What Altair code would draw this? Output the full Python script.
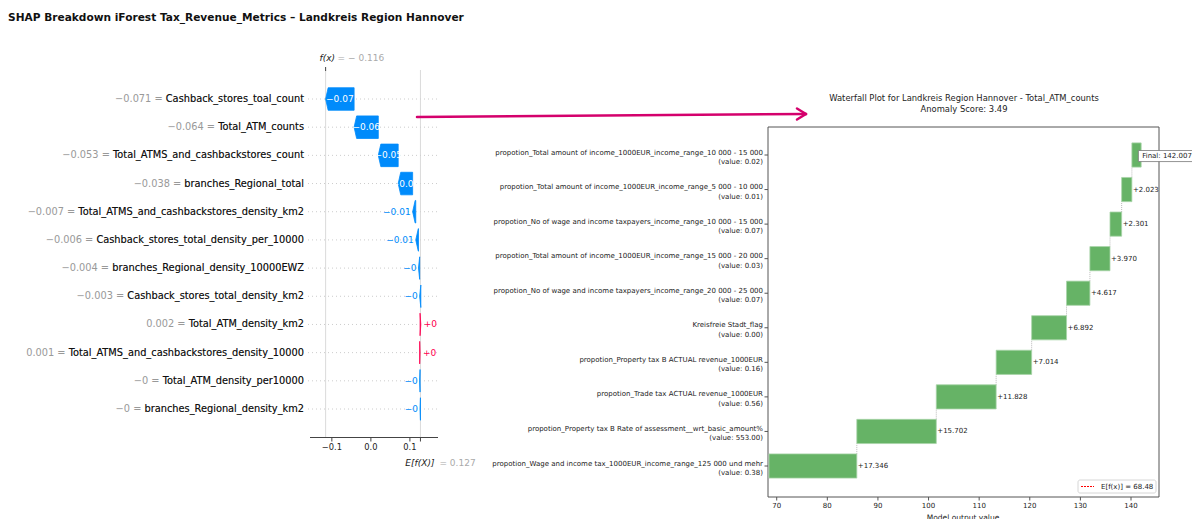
import altair as alt
import pandas as pd

FONT = "DejaVu Sans"
BLUE = "#008bfb"
PINK = "#ff0051"
GREEN = "#66b366"
ARROW = "#d4006c"

# ---------------- SHAP breakdown (rows listed top to bottom) ----------------
shap_title = "SHAP Breakdown iForest Tax_Revenue_Metrics – Landkreis Region Hannover"
shap_features = [
    "Cashback_stores_toal_count",
    "Total_ATM_counts",
    "Total_ATMS_and_cashbackstores_count",
    "branches_Regional_total",
    "Total_ATMS_and_cashbackstores_density_km2",
    "Cashback_stores_total_density_per_10000",
    "branches_Regional_density_10000EWZ",
    "Cashback_stores_total_density_km2",
    "Total_ATM_density_km2",
    "Total_ATMS_and_cashbackstores_density_10000",
    "Total_ATM_density_per10000",
    "branches_Regional_density_km2",
]
shap_feature_values = [-0.071, -0.064, -0.053, -0.038, -0.007, -0.006,
                       -0.004, -0.003, 0.002, 0.001, -0.0, -0.0]
shap_values = [-0.073, -0.062, -0.051, -0.037, -0.008, -0.007,
               -0.003, -0.003, 0.002, 0.001, -0.001, -0.001]
shap_base = 0.127
shap_ticks = [-0.1, 0.0, 0.1]
shap_tick_labels = ["−0.1", "0.0", "0.1"]

# ---------------- Waterfall (rows listed top to bottom) ----------------
wf_title = "Waterfall Plot for Landkreis Region Hannover - Total_ATM_counts"
anomaly_score = 3.49
wf_features = [
    "propotion_Total amount of income_1000EUR_income_range_10 000 - 15 000",
    "propotion_Total amount of income_1000EUR_income_range_5 000 - 10 000",
    "propotion_No of wage and income taxpayers_income_range_10 000 - 15 000",
    "propotion_Total amount of income_1000EUR_income_range_15 000 - 20 000",
    "propotion_No of wage and income taxpayers_income_range_20 000 - 25 000",
    "Kreisfreie Stadt_flag",
    "propotion_Property tax B ACTUAL revenue_1000EUR",
    "propotion_Trade tax ACTUAL revenue_1000EUR",
    "propotion_Property tax B Rate of assessment__wrt_basic_amount%",
    "propotion_Wage and income tax_1000EUR_income_range_125 000 und mehr",
]
wf_feature_values = ["0.02", "0.01", "0.07", "0.03", "0.07", "0.00",
                     "0.16", "0.56", "553.00", "0.38"]
wf_contrib = [1.834, 2.023, 2.301, 3.970, 4.617, 6.892,
              7.014, 11.828, 15.702, 17.346]
wf_base = 68.48
wf_ticks = [70, 80, 90, 100, 110, 120, 130, 140]


def strip_num(v, d):
    s = f"{v:.{d}f}".rstrip("0").rstrip(".")
    return s.replace("-", "−")


def signed(v):
    s = strip_num(v, 2)
    return s if s.startswith("−") else "+" + s


# ---- scales: each panel gets its own pixel placement on one canvas ----
X_SHAP = alt.Scale(domain=[-0.156, 0.172], range=[310, 438], nice=False, zero=False)
Y_SHAP = alt.Scale(domain=[0, 11], range=[99, 409], nice=False, zero=False)
X_WF = alt.Scale(domain=[68.28, 145.53], range=[768, 1159], nice=False, zero=False)
Y_WF = alt.Scale(domain=[0, 9], range=[155, 466], nice=False, zero=False)

# font sizes
FS_FEAT = 9.8
FS_BAR = 9
FS_TICK = 8.3
FS_MATH = 9
FS_TITLE = 10.6
FS_WF = 7
FS_WF_TITLE = 8.4


def xs(f):
    return alt.X(f, type="quantitative", scale=X_SHAP, axis=None)


def ys(f):
    return alt.Y(f, type="quantitative", scale=Y_SHAP, axis=None, stack=None)


def xw(f):
    return alt.X(f, type="quantitative", scale=X_WF, axis=None)


def yw(f):
    return alt.Y(f, type="quantitative", scale=Y_WF, axis=None, stack=None)


layers = []

# ================= SHAP panel =================
n = len(shap_values)
s_start, s_end = [0.0] * n, [0.0] * n
cum = shap_base
for i in reversed(range(n)):
    s_start[i] = cum
    cum += shap_values[i]
    s_end[i] = cum
shap_fx = cum

rows_df = pd.DataFrame({"row": list(range(n))})

# dotted row guides
layers.append(
    alt.Chart(rows_df).mark_rule(color="#cccccc", strokeDash=[1, 3], strokeWidth=1)
    .encode(x=alt.value(308), x2=alt.value(438), y=ys("row"))
)

# vertical reference lines at f(x) and E[f(X)]
ref_df = pd.DataFrame({"v": [shap_fx, shap_base]})
layers.append(
    alt.Chart(ref_df).mark_rule(color="#d0d0d0", strokeWidth=0.8)
    .encode(x=xs("v"), y=alt.value(70), y2=alt.value(437))
)

# arrow-shaped bars
H = 0.4
HEAD = 0.0065
poly = []
for i, (s, e, v) in enumerate(zip(s_start, s_end, shap_values)):
    col = BLUE if v < 0 else PINK
    hl = min(HEAD, abs(v))
    neck = e + hl if v < 0 else e - hl
    for x, a, b in [(e, i, i), (neck, i - H, i + H), (s, i - H, i + H)]:
        poly.append({"row": i, "x": x, "y0": a, "y1": b, "col": col})
poly_df = pd.DataFrame(poly)
layers.append(
    alt.Chart(poly_df).mark_area(orient="vertical", strokeWidth=0.8, interpolate="linear")
    .encode(
        x=xs("x"), y=ys("y0"), y2="y1",
        color=alt.Color("col:N", scale=None),
        stroke=alt.Stroke("col:N", scale=None),
        detail="row:N",
    )
)

# bar value labels
INSIDE_MIN = 0.03
lab = pd.DataFrame({
    "row": list(range(n)),
    "s": s_start, "e": s_end, "v": shap_values,
    "mid": [(a + b) / 2 for a, b in zip(s_start, s_end)],
    "t": [signed(v) for v in shap_values],
})
inside = lab[lab.v.abs() >= INSIDE_MIN]
out_neg = lab[(lab.v.abs() < INSIDE_MIN) & (lab.v < 0)]
out_pos = lab[(lab.v.abs() < INSIDE_MIN) & (lab.v > 0)]
layers.append(
    alt.Chart(inside).mark_text(font=FONT, fontSize=FS_BAR, color="white", align="center", baseline="middle")
    .encode(x=xs("mid"), y=ys("row"), text="t:N")
)
layers.append(
    alt.Chart(out_neg).mark_text(font=FONT, fontSize=FS_BAR, color=BLUE, align="right", baseline="middle", dx=-2)
    .encode(x=xs("e"), y=ys("row"), text="t:N")
)
layers.append(
    alt.Chart(out_pos).mark_text(font=FONT, fontSize=FS_BAR, color=PINK, align="left", baseline="middle", dx=3)
    .encode(x=xs("e"), y=ys("row"), text="t:N")
)

# feature labels: grey "value = " followed by black feature name
feat_df = pd.DataFrame({
    "row": list(range(n)),
    "full": [f"{strip_num(v, 3)} = {f}" for v, f in zip(shap_feature_values, shap_features)],
    "name": shap_features,
})
layers.append(
    alt.Chart(feat_df).mark_text(font=FONT, fontSize=FS_FEAT, color="#999999", align="right", baseline="middle")
    .encode(x=alt.value(304), y=ys("row"), text="full:N")
)
layers.append(
    alt.Chart(feat_df).mark_text(font=FONT, fontSize=FS_FEAT, color="#111111", align="right", baseline="middle")
    .encode(x=alt.value(304), y=ys("row"), text="name:N")
)

# bottom axis
one = pd.DataFrame({"k": [0]})
layers.append(
    alt.Chart(one).mark_rule(color="#444444", strokeWidth=1)
    .encode(x=alt.value(310), x2=alt.value(438), y=alt.value(437.5))
)
tick_df = pd.DataFrame({"v": shap_ticks + [shap_base]})
layers.append(
    alt.Chart(tick_df).mark_rule(color="#444444", strokeWidth=1)
    .encode(x=xs("v"), y=alt.value(437.5), y2=alt.value(441.5))
)
tl_df = pd.DataFrame({"v": shap_ticks, "t": shap_tick_labels})
layers.append(
    alt.Chart(tl_df).mark_text(font=FONT, fontSize=FS_TICK, color="#222222", align="center", baseline="middle")
    .encode(x=xs("v"), y=alt.value(448), text="t:N")
)
# top tick at f(x)
fx_df = pd.DataFrame({"v": [shap_fx], "a": ["f(x)"], "b": [f"= − {abs(shap_fx):.3f}"]})
layers.append(
    alt.Chart(fx_df).mark_rule(color="#444444", strokeWidth=1)
    .encode(x=xs("v"), y=alt.value(67), y2=alt.value(71))
)
layers.append(
    alt.Chart(fx_df).mark_text(font=FONT, fontSize=FS_MATH, fontStyle="italic", color="#222222", align="left", baseline="middle", dx=-6)
    .encode(x=xs("v"), y=alt.value(58), text="a:N")
)
layers.append(
    alt.Chart(fx_df).mark_text(font=FONT, fontSize=FS_MATH, color="#aaaaaa", align="left", baseline="middle", dx=12)
    .encode(x=xs("v"), y=alt.value(58), text="b:N")
)
ef_df = pd.DataFrame({"v": [shap_base], "a": ["E[f(X)]"], "b": [f"= {shap_base:.3f}"]})
layers.append(
    alt.Chart(ef_df).mark_text(font=FONT, fontSize=FS_MATH, fontStyle="italic", color="#222222", align="right", baseline="middle", dx=14)
    .encode(x=xs("v"), y=alt.value(463), text="a:N")
)
layers.append(
    alt.Chart(ef_df).mark_text(font=FONT, fontSize=FS_MATH, color="#aaaaaa", align="left", baseline="middle", dx=19)
    .encode(x=xs("v"), y=alt.value(463), text="b:N")
)
# panel title
layers.append(
    alt.Chart(pd.DataFrame({"t": [shap_title]})).mark_text(
        font=FONT, fontSize=FS_TITLE, fontWeight="bold", color="#111111", align="left", baseline="middle")
    .encode(x=alt.value(8), y=alt.value(18), text="t:N")
)

# ================= Waterfall panel =================
m = len(wf_contrib)
w_start, w_end = [0.0] * m, [0.0] * m
cum = wf_base
for j in reversed(range(m)):
    w_start[j] = cum
    cum += wf_contrib[j]
    w_end[j] = cum
wf_final = cum

BH = 0.35
wf_df = pd.DataFrame({
    "row": list(range(m)),
    "s": w_start, "e": w_end,
    "y0": [j - BH for j in range(m)], "y1": [j + BH for j in range(m)],
    "lab": ["" if j == 0 else f"+{wf_contrib[j]:.3f}" for j in range(m)],
    "name": wf_features,
    "val": [f"(value: {v})" for v in wf_feature_values],
})

# frame of the axes
layers.append(
    alt.Chart(one).mark_rect(fill="white", stroke="#555555", strokeWidth=1)
    .encode(x=alt.value(768), x2=alt.value(1159), y=alt.value(127), y2=alt.value(497))
)
# connectors between consecutive bars
con_df = pd.DataFrame({
    "x": [w_end[j] for j in range(1, m)],
    "y0": [j - BH for j in range(1, m)],
    "y1": [j - 1 + BH for j in range(1, m)],
})
layers.append(
    alt.Chart(con_df).mark_rule(color="#aaaaaa", strokeDash=[1, 1], strokeWidth=0.8)
    .encode(x=xw("x"), y=yw("y0"), y2="y1")
)
# bars
layers.append(
    alt.Chart(wf_df).mark_rect(color=GREEN, stroke="#a8d4a8", strokeWidth=0.8)
    .encode(x=xw("s"), x2="e", y=yw("y0"), y2="y1")
)
# contribution labels
layers.append(
    alt.Chart(wf_df[wf_df.row > 0]).mark_text(font=FONT, fontSize=FS_WF, color="#222222", align="left", baseline="middle", dx=1)
    .encode(x=xw("e"), y=yw("row"), text="lab:N")
)
# final value box
fin_df = pd.DataFrame({"row": [0], "x": [wf_final], "bx": [wf_final - 0.55],
                       "y0": [-0.13], "y1": [0.19], "t": [f"Final: {wf_final:.3f}"]})
layers.append(
    alt.Chart(fin_df).mark_rect(fill="white", stroke="#777777", strokeWidth=0.8)
    .encode(x=xw("bx"), x2=alt.value(1210), y=yw("y0"), y2="y1")
)
layers.append(
    alt.Chart(fin_df).mark_text(font=FONT, fontSize=FS_WF, color="#222222", align="left", baseline="middle", dx=1, dy=1)
    .encode(x=xw("x"), y=yw("row"), text="t:N")
)
# y tick marks and two-line labels
layers.append(
    alt.Chart(wf_df).mark_rule(color="#555555", strokeWidth=1)
    .encode(x=alt.value(764.5), x2=alt.value(768), y=yw("row"))
)
layers.append(
    alt.Chart(wf_df).mark_text(font=FONT, fontSize=FS_WF, color="#222222", align="right", baseline="middle", dy=-2.5)
    .encode(x=alt.value(763), y=yw("row"), text="name:N")
)
layers.append(
    alt.Chart(wf_df).mark_text(font=FONT, fontSize=FS_WF, color="#222222", align="right", baseline="middle", dy=7)
    .encode(x=alt.value(763), y=yw("row"), text="val:N")
)
# x ticks
wt_df = pd.DataFrame({"v": wf_ticks, "t": [str(t) for t in wf_ticks]})
layers.append(
    alt.Chart(wt_df).mark_rule(color="#555555", strokeWidth=1)
    .encode(x=xw("v"), y=alt.value(497), y2=alt.value(500.5))
)
layers.append(
    alt.Chart(wt_df).mark_text(font=FONT, fontSize=FS_WF, color="#222222", align="center", baseline="middle")
    .encode(x=xw("v"), y=alt.value(506), text="t:N")
)
layers.append(
    alt.Chart(pd.DataFrame({"t": ["Model output value"]})).mark_text(
        font=FONT, fontSize=FS_WF + 0.5, color="#222222", align="center", baseline="middle")
    .encode(x=alt.value(963), y=alt.value(518), text="t:N")
)
# titles
layers.append(
    alt.Chart(pd.DataFrame({"t": [wf_title, f"Anomaly Score: {anomaly_score:.2f}"], "y": [97.5, 108.5]}))
    .mark_text(font=FONT, fontSize=FS_WF_TITLE, color="#222222", align="center", baseline="middle")
    .encode(x=alt.value(964), y=alt.Y("y:Q", scale=None, axis=None), text="t:N")
)
# legend
layers.append(
    alt.Chart(one).mark_rect(fill="white", stroke="#cccccc", strokeWidth=0.8, cornerRadius=2)
    .encode(x=alt.value(1078), x2=alt.value(1156), y=alt.value(480), y2=alt.value(493))
)
layers.append(
    alt.Chart(one).mark_rule(color="red", strokeDash=[2, 1], strokeWidth=1)
    .encode(x=alt.value(1081), x2=alt.value(1094), y=alt.value(486.5))
)
layers.append(
    alt.Chart(pd.DataFrame({"t": [f"E[f(x)] = {wf_base:.2f}"]})).mark_text(
        font=FONT, fontSize=FS_WF, color="#222222", align="left", baseline="middle")
    .encode(x=alt.value(1101), y=alt.value(486.5), text="t:N")
)

# ================= connecting arrow =================
arrow_df = pd.DataFrame({
    "x": [417, 797, 797], "x2": [806, 806, 806],
    "y": [117, 108.5, 119.5], "y2": [114, 114, 114],
})
layers.append(
    alt.Chart(arrow_df).mark_rule(color=ARROW, strokeWidth=2.5, strokeCap="round")
    .encode(
        x=alt.X("x:Q", scale=None, axis=None), x2="x2",
        y=alt.Y("y:Q", scale=None, axis=None), y2="y2",
    )
)

chart = (
    alt.layer(*layers)
    .resolve_scale(x="independent", y="independent", color="independent", stroke="independent")
    .properties(width=1192, height=519, padding=0,
                autosize=alt.AutoSizeParams(type="none"), background="white")
    .configure_view(stroke=None)
)

chart.save("out.html", embed_options={"renderer": "svg", "actions": False})
